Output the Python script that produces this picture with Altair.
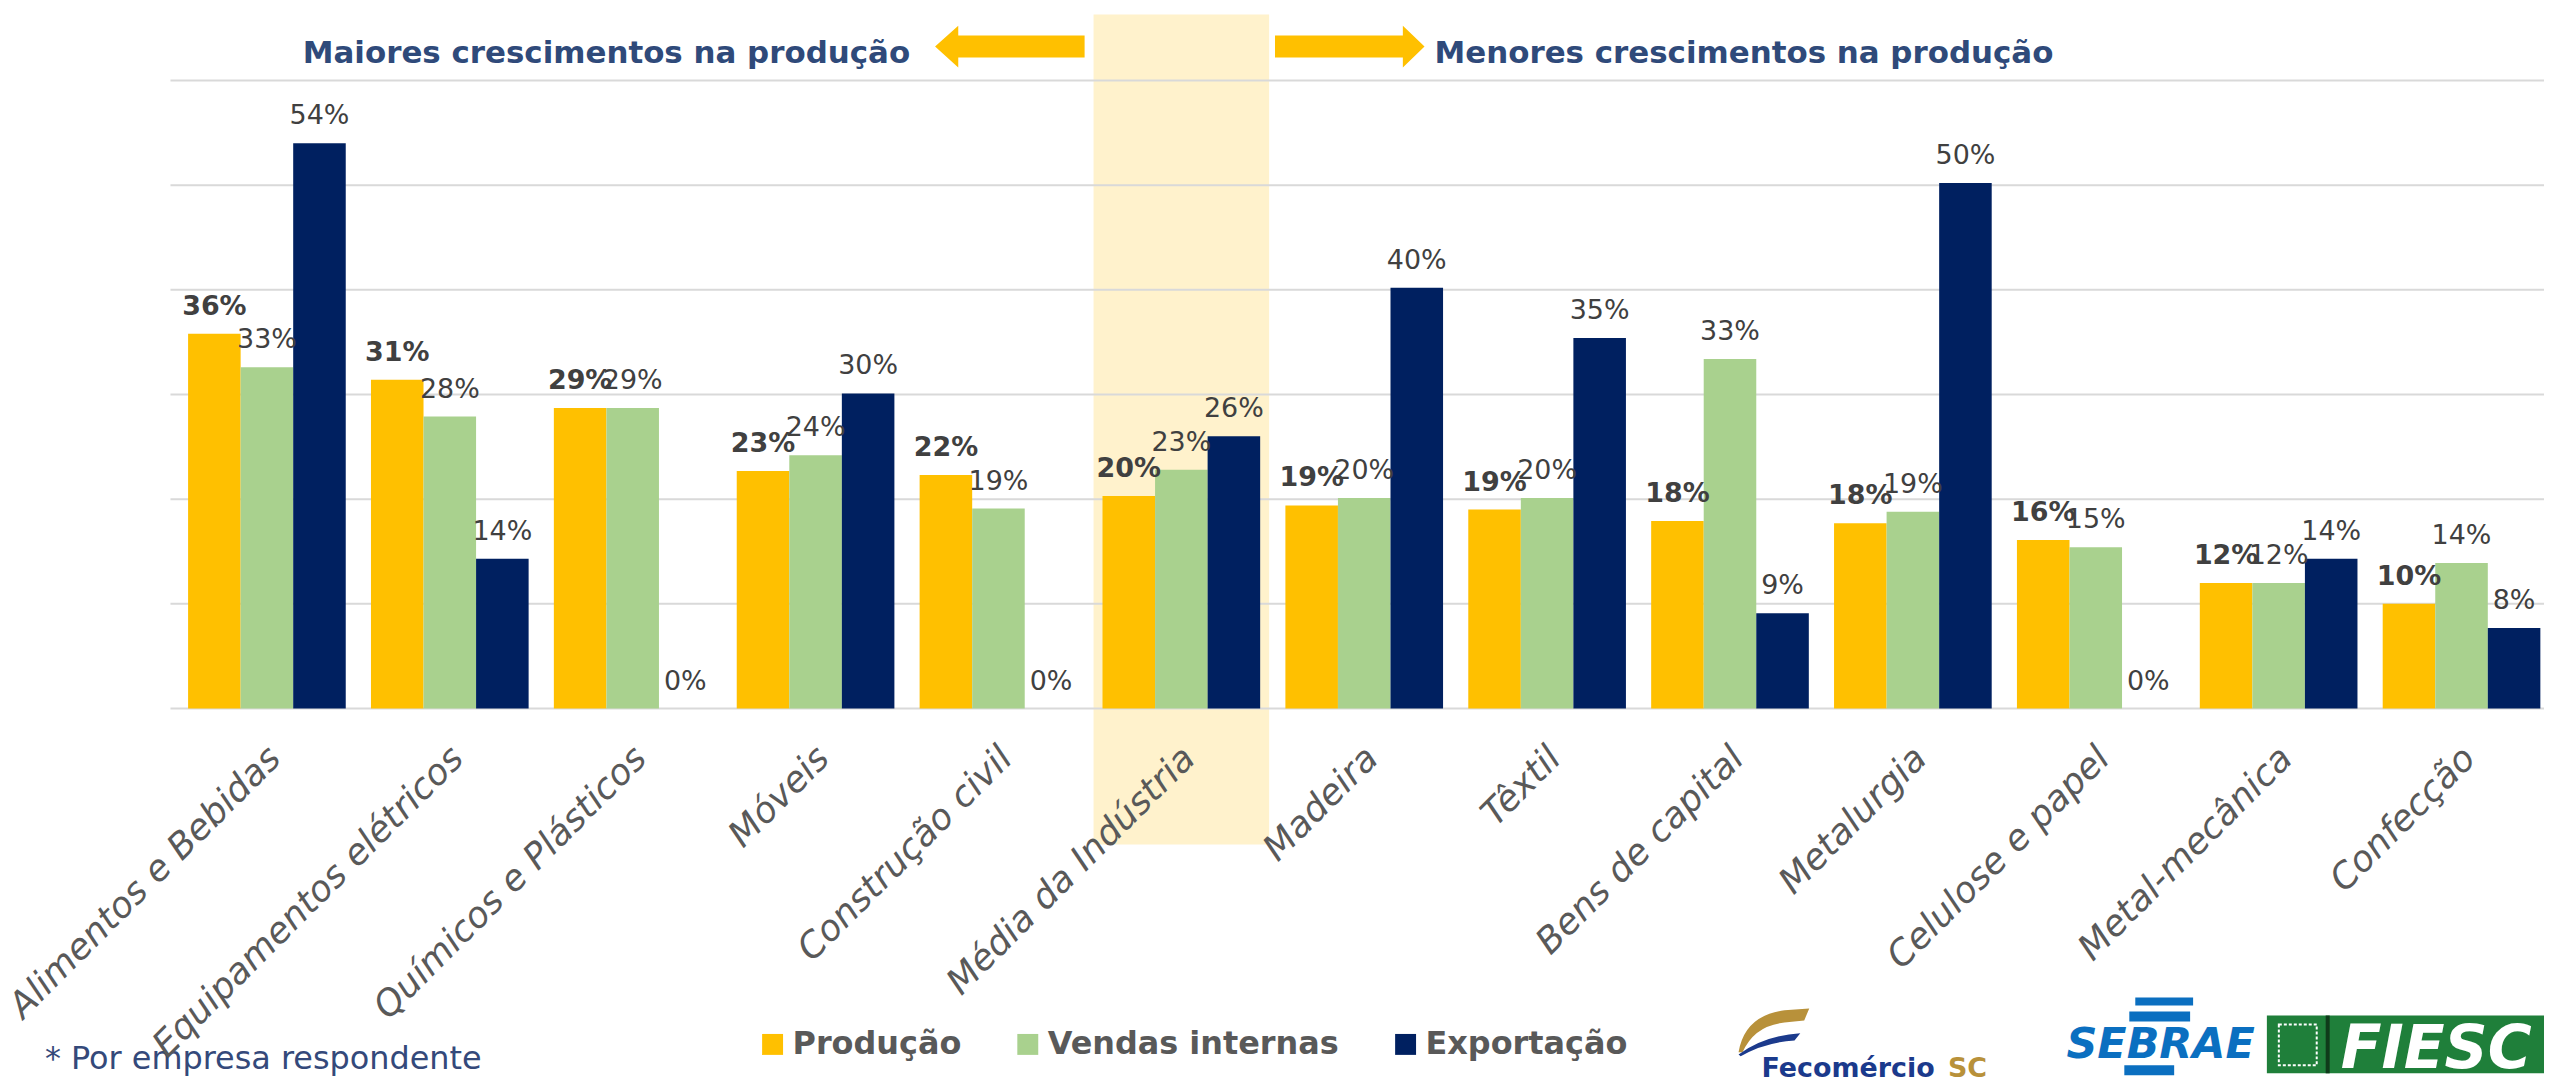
import altair as alt
import pandas as pd

# ---------------- data ----------------
categories = ["Alimentos e Bebidas", "Equipamentos elétricos", "Químicos e Plásticos", "Móveis",
              "Construção civil", "Média da Indústria", "Madeira", "Têxtil", "Bens de capital",
              "Metalurgia", "Celulose e papel", "Metal-mecânica", "Confecção"]
series = ["Produção", "Vendas internas", "Exportação"]
producao = [35.8, 31.4, 28.7, 22.7, 22.3, 20.3, 19.4, 19.0, 17.9, 17.7, 16.1, 12.0, 10.0]
vendas = [32.6, 27.9, 28.7, 24.2, 19.1, 22.8, 20.1, 20.1, 33.4, 18.8, 15.4, 12.0, 13.9]
exportacao = [54.0, 14.3, 0.0, 30.1, 0.0, 26.0, 40.2, 35.4, 9.1, 50.2, 0.0, 14.3, 7.7]
gridlines = [0, 10, 20, 30, 40, 50, 60]
highlight_cat = "Média da Indústria"
highlight_top = 66.3
highlight_bottom = -13.0
title_left = "Maiores crescimentos na produção"
title_right = "Menores crescimentos na produção"
footnote = "* Por empresa respondente"

colors = ["#FFC000", "#A9D18E", "#002060"]
FONT = "DejaVu Sans"

rows = []
for s, vals in zip(series, [producao, vendas, exportacao]):
    for c, v in zip(categories, vals):
        rows.append({"cat": c, "series": s, "value": v / 100})
df = pd.DataFrame(rows)

W = 2376
H = 630
XR = 2385

x_axis = alt.Axis(title=None, labelAngle=-45, labelAlign="right", labelBaseline="top",
                  labelPadding=32, labelOffset=-4, ticks=False, tickSize=0, domain=False, grid=False,
                  labelFont=FONT, labelFontStyle="italic", labelFontSize=36,
                  labelColor="#595959", labelLimit=1000, zindex=1)
x_scale = alt.Scale(range=[0, XR], paddingInner=0, paddingOuter=0)
y_scale = alt.Scale(domain=[0, 0.6], nice=False, zero=False)


def xenc():
    return alt.X("cat:N", sort=categories, scale=x_scale, axis=x_axis)


xoff = alt.XOffset("series:N", sort=series, scale=alt.Scale(paddingInner=0, paddingOuter=0.24))

# highlight band
hl = alt.Chart(pd.DataFrame({"cat": [highlight_cat], "top": [highlight_top / 100],
                             "bottom": [highlight_bottom / 100]})).mark_bar(
    color="#FFF2CC", width=alt.RelativeBandSize(0.96)).encode(
    x=xenc(),
    y=alt.Y("top:Q", scale=y_scale, axis=None),
    y2="bottom:Q")

grid = alt.Chart(pd.DataFrame({"g": [g / 100 for g in gridlines]})).mark_rule(
    color="#D9D9D9", strokeWidth=2).encode(
    y=alt.Y("g:Q", scale=y_scale, axis=None),
    x=alt.value(-5), x2=alt.value(XR))

bars = alt.Chart(df).mark_bar().encode(
    x=xenc(), xOffset=xoff,
    y=alt.Y("value:Q", scale=y_scale, axis=None),
    color=alt.Color("series:N", sort=series,
                    scale=alt.Scale(domain=series, range=colors),
                    legend=alt.Legend(orient="none", legendX=583, legendY=951, direction="horizontal",
                                      title=None, symbolType="square", symbolSize=441,
                                      symbolStrokeWidth=0, labelFont=FONT, labelFontSize=32,
                                      labelFontWeight="bold", labelColor="#595959", labelOffset=4,
                                      columnPadding=50, padding=0, labelLimit=1000)))

lab_other = alt.Chart(df).transform_filter(alt.datum.series != "Produção").mark_text(
    font=FONT, fontSize=27, color="#404040", baseline="alphabetic", dy=-19).encode(
    x=xenc(), xOffset=xoff,
    y=alt.Y("value:Q", scale=y_scale, axis=None),
    text=alt.Text("value:Q", format=".0%"))

lab_prod = alt.Chart(df).transform_filter(alt.datum.series == "Produção").mark_text(
    font=FONT, fontSize=27, fontWeight="bold", color="#404040", baseline="alphabetic", dy=-19).encode(
    x=xenc(), xOffset=xoff,
    y=alt.Y("value:Q", scale=y_scale, axis=None),
    text=alt.Text("value:Q", format=".0%"))

one = pd.DataFrame({"a": [0]})

t_left = alt.Chart(pd.DataFrame({"t": [title_left]})).mark_text(
    font=FONT, fontSize=31, fontWeight="bold", color="#2F4A7A", align="right",
    baseline="alphabetic").encode(text="t:N", x=alt.value(737), y=alt.value(-18))
t_right = alt.Chart(pd.DataFrame({"t": [title_right]})).mark_text(
    font=FONT, fontSize=31, fontWeight="bold", color="#2F4A7A", align="left",
    baseline="alphabetic").encode(text="t:N", x=alt.value(1263), y=alt.value(-18))

left_arrow = "M -1 0 L -0.69 -0.28 L -0.69 -0.147 L 1 -0.147 L 1 0.147 L -0.69 0.147 L -0.69 0.28 Z"
right_arrow = "M 1 0 L 0.71 -0.28 L 0.71 -0.147 L -1 -0.147 L -1 0.147 L 0.71 0.147 L 0.71 0.28 Z"
a_left = alt.Chart(one).mark_point(shape=left_arrow, filled=True, size=22500, color="#FFC000",
                                   opacity=1, strokeWidth=0).encode(
    x=alt.value(837), y=alt.value(-34))
a_right = alt.Chart(one).mark_point(shape=right_arrow, filled=True, size=22500, color="#FFC000",
                                    opacity=1, strokeWidth=0).encode(
    x=alt.value(1178), y=alt.value(-34))

foot = alt.Chart(pd.DataFrame({"t": [footnote]})).mark_text(
    font=FONT, fontSize=32, color="#34497A", align="left", baseline="alphabetic").encode(
    text="t:N", x=alt.value(-131), y=alt.value(992))

# logos (approximations)
gold_swoosh = ("M -1 0.61 Q -0.83 -0.42 0.28 -0.56 L 0.97 -0.61 L 0.83 -0.28 L 0.28 -0.22 "
               "Q -0.56 -0.14 -0.89 0.61 Z")
blue_swoosh = "M -1 0.67 Q -0.28 0.14 0.72 0.08 L 0.56 0.28 Q -0.28 0.33 -0.94 0.72 Z"
feco_gold = alt.Chart(one).mark_point(shape=gold_swoosh, filled=True, size=5184, color="#B8913A",
                                      opacity=1, strokeWidth=0).encode(
    x=alt.value(1604), y=alt.value(953))
feco_blue = alt.Chart(one).mark_point(shape=blue_swoosh, filled=True, size=5184, color="#1B3A8C",
                                      opacity=1, strokeWidth=0).encode(
    x=alt.value(1604), y=alt.value(953))
feco = alt.Chart(pd.DataFrame({"t": ["Fecomércio"]})).mark_text(
    font=FONT, fontSize=27, fontWeight="bold", color="#1B3A8C", align="left",
    baseline="alphabetic").encode(text="t:N", x=alt.value(1591), y=alt.value(1000))
feco_sc = alt.Chart(pd.DataFrame({"t": ["SC"]})).mark_text(
    font=FONT, fontSize=27, fontWeight="bold", color="#B8913A", align="left",
    baseline="alphabetic").encode(text="t:N", x=alt.value(1778), y=alt.value(1000))

sebrae = alt.Chart(pd.DataFrame({"t": ["SEBRAE"]})).mark_text(
    font=FONT, fontSize=43, fontWeight="bold", fontStyle="italic", color="#0B6FC0", align="left",
    baseline="alphabetic").encode(text="t:N", x=alt.value(1897), y=alt.value(981))
seb_b1 = alt.Chart(one).mark_rect(color="#0B6FC0").encode(
    x=alt.value(1966), x2=alt.value(2024), y=alt.value(920), y2=alt.value(928))
seb_b2 = alt.Chart(one).mark_rect(color="#0B6FC0").encode(
    x=alt.value(1960), x2=alt.value(2021), y=alt.value(934), y2=alt.value(944))
seb_b3 = alt.Chart(one).mark_rect(color="#0B6FC0").encode(
    x=alt.value(1955), x2=alt.value(2005), y=alt.value(988), y2=alt.value(998))

fiesc_box = alt.Chart(one).mark_rect(color="#1F7F3A").encode(
    x=alt.value(2098), x2=alt.value(2376), y=alt.value(938), y2=alt.value(996))
fiesc_line = alt.Chart(one).mark_rect(color="#0F3A1A").encode(
    x=alt.value(2157), x2=alt.value(2161), y=alt.value(938), y2=alt.value(996))
fiesc_emblem = alt.Chart(one).mark_rect(color="#1F7F3A", stroke="white", strokeWidth=2,
                                        strokeDash=[3, 2]).encode(
    x=alt.value(2110), x2=alt.value(2148), y=alt.value(947), y2=alt.value(988))
fiesc = alt.Chart(pd.DataFrame({"t": ["FIESC"]})).mark_text(
    font=FONT, fontSize=60, fontWeight="bold", fontStyle="italic", color="white", align="left",
    baseline="alphabetic").encode(text="t:N", x=alt.value(2172), y=alt.value(991))

chart = alt.layer(hl, grid, bars, lab_other, lab_prod, t_left, t_right, a_left, a_right, foot,
                  feco_gold, feco_blue, feco, feco_sc, sebrae, seb_b1, seb_b2, seb_b3,
                  fiesc_box, fiesc_line, fiesc_emblem, fiesc
                  ).properties(
    width=W, height=H,
    padding={"left": 168, "top": 71, "right": 0, "bottom": 370},
    autosize=alt.AutoSizeParams(type="none"),
    background="white",
).configure_view(strokeWidth=0)

chart.save("out.html", embed_options={"renderer": "svg", "actions": False})
